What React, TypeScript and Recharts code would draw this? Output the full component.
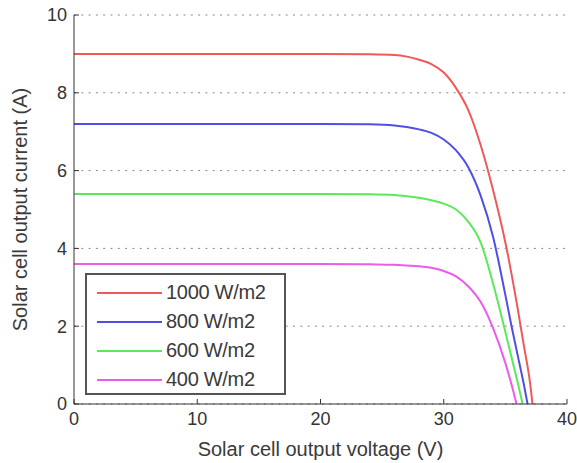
import React from 'react';
import { LineChart, Line, XAxis, YAxis, CartesianGrid } from 'recharts';

const seriesNames = ['1000 W/m2', '800 W/m2', '600 W/m2', '400 W/m2'];
const seriesColors = ['#ee5a5a', '#4f4fe6', '#5ce85c', '#ec5cec'];

const v1000 = [0, 10, 20, 24, 26, 27, 28, 29, 30, 31, 32, 33, 34, 35, 36, 36.5, 37, 37.2];
const i1000 = [9, 9, 9, 8.99, 8.97, 8.93, 8.85, 8.74, 8.52, 8.12, 7.55, 6.65, 5.5, 4.15, 2.45, 1.5, 0.55, 0];

const v800 = [0, 10, 20, 24, 26, 27, 28, 29, 30, 31, 32, 33, 34, 35, 35.5, 36, 36.5, 36.8];
const i800 = [7.2, 7.2, 7.2, 7.19, 7.16, 7.12, 7.06, 6.97, 6.8, 6.52, 6.08, 5.35, 4.3, 2.8, 2.0, 1.25, 0.5, 0];

const v600 = [0, 10, 20, 24, 26, 27, 28, 29, 30, 31, 32, 33, 34, 35, 35.5, 36, 36.4];
const i600 = [5.4, 5.4, 5.4, 5.39, 5.37, 5.34, 5.3, 5.24, 5.15, 5.0, 4.68, 4.15, 3.1, 1.85, 1.2, 0.55, 0];

const v400 = [0, 10, 20, 24, 26, 27, 28, 29, 30, 31, 32, 33, 34, 35, 35.5, 35.9];
const i400 = [3.6, 3.6, 3.6, 3.59, 3.58, 3.56, 3.54, 3.5, 3.42, 3.28, 3.02, 2.62, 1.95, 1.05, 0.5, 0];

const xTicks = [0, 10, 20, 30, 40];
const yTicks = [0, 2, 4, 6, 8, 10];

const build = (vs: number[], is: number[]) => vs.map((v, k) => ({ v, i: is[k] }));
const seriesData = [build(v1000, i1000), build(v800, i800), build(v600, i600), build(v400, i400)];

const font = '"Liberation Sans", Arial, sans-serif';

const LegendBox = () => (
  <div
    style={{
      position: 'absolute',
      left: 85,
      top: 273,
      width: 201,
      height: 122,
      border: '2px solid #555',
      background: '#fff',
      boxSizing: 'border-box',
      paddingTop: 3,
      fontFamily: font,
    }}
  >
    {seriesNames.map((n, k) => (
      <div key={n} style={{ display: 'flex', alignItems: 'center', height: 29 }}>
        <div style={{ width: 65, height: 2, background: seriesColors[k], marginLeft: 10, marginRight: 4 }} />
        <span style={{ fontSize: 20, color: '#3a3a3a', letterSpacing: -0.3 }}>{n}</span>
      </div>
    ))}
  </div>
);

export default function App() {
  return (
    <div style={{ position: 'absolute', left: 0, top: 0, width: 577, height: 463, background: '#fff' }}>
      <LineChart width={577} height={463} margin={{ top: 15, right: 10, bottom: 0, left: 0 }}>
        <CartesianGrid vertical={false} stroke="#888" strokeDasharray="2 5.3" />
        <XAxis
          type="number"
          dataKey="v"
          domain={[0, 40]}
          ticks={xTicks}
          height={59}
          tickSize={-5}
          tickMargin={13}
          stroke="#333"
          tick={{ fill: '#333', fontSize: 18, fontFamily: font }}
          label={{ value: 'Solar cell output voltage (V)', position: 'insideBottom', offset: 7, fill: '#3a3a3a', fontSize: 20, fontFamily: font }}
        />
        <YAxis
          type="number"
          domain={[0, 10]}
          ticks={yTicks}
          width={74}
          tickSize={-5}
          tickMargin={12}
          stroke="#333"
          tick={{ fill: '#333', fontSize: 18, fontFamily: font }}
          label={{ value: 'Solar cell output current (A)', angle: -90, position: 'insideLeft', offset: 20, fill: '#3a3a3a', fontSize: 20, fontFamily: font, style: { textAnchor: 'middle' } }}
        />
        {seriesData.map((d, k) => (
          <Line
            key={seriesNames[k]}
            data={d}
            dataKey="i"
            name={seriesNames[k]}
            type="monotone"
            stroke={seriesColors[k]}
            strokeWidth={2}
            dot={false}
            isAnimationActive={false}
          />
        ))}
      </LineChart>
      <LegendBox />
    </div>
  );
}
